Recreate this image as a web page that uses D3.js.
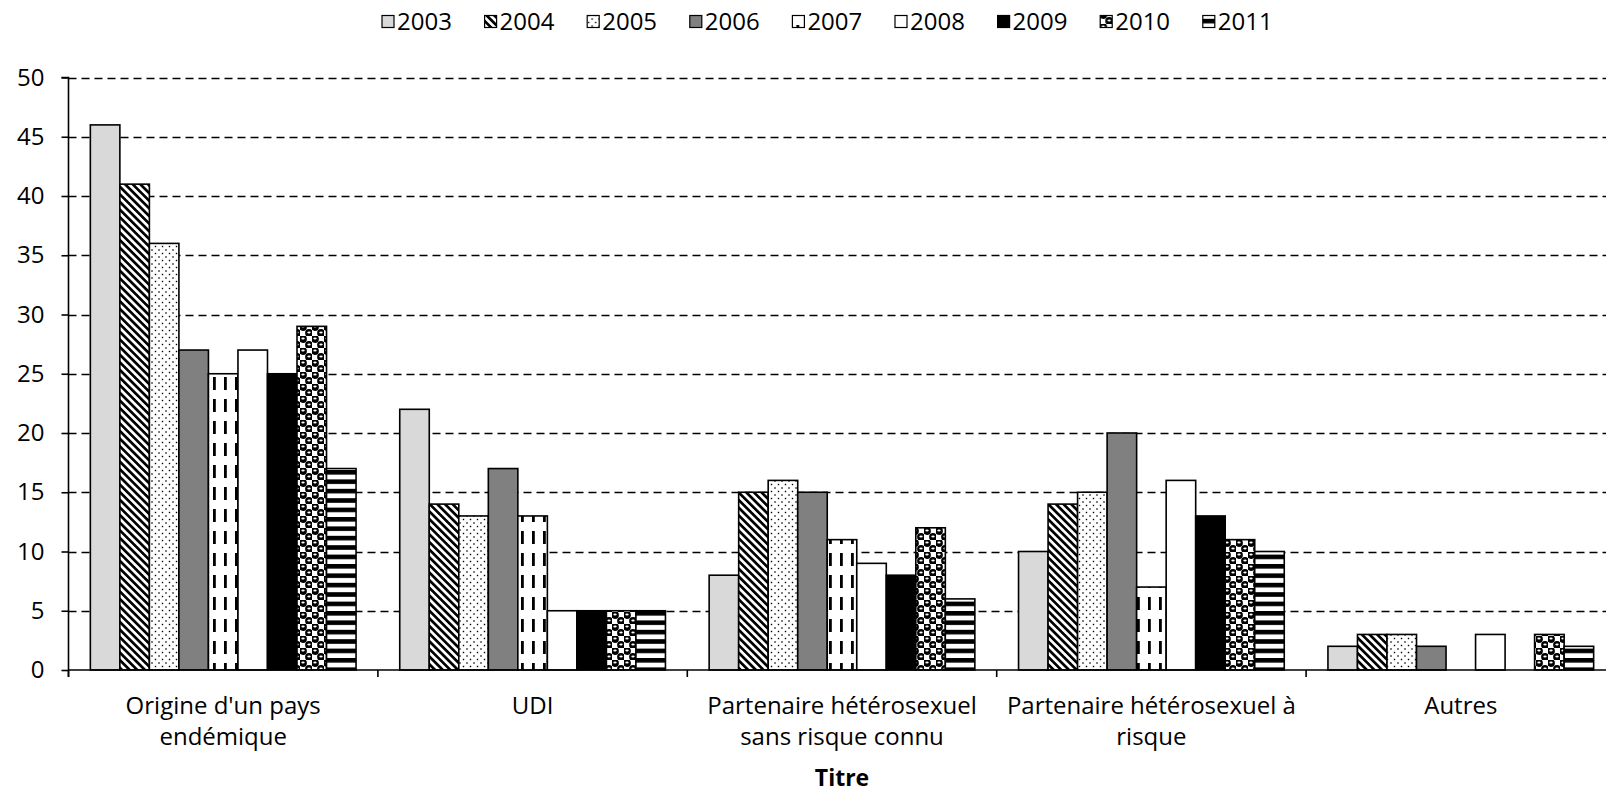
<!DOCTYPE html>
<html>
<head>
<meta charset="utf-8">
<script src="https://cdn.jsdelivr.net/npm/d3@7"></script>
<style>
  html, body { margin: 0; padding: 0; background: #fff; overflow: hidden; }
  svg { display: block; }
  text { font-family: "Open Sans", "Liberation Sans", sans-serif; fill: #000; }
</style>
</head>
<body>
<svg id="chart" width="1606" height="793"></svg>
<script>
// ---------- DATA ----------
const categories = [
  "Origine d'un pays endémique",
  "UDI",
  "Partenaire hétérosexuel sans risque connu",
  "Partenaire hétérosexuel à risque",
  "Autres"
];
const categoryLines = [
  ["Origine d'un pays", "endémique"],
  ["UDI"],
  ["Partenaire hétérosexuel", "sans risque connu"],
  ["Partenaire hétérosexuel à", "risque"],
  ["Autres"]
];
const years = ["2003", "2004", "2005", "2006", "2007", "2008", "2009", "2010", "2011"];
const values2003 = [46, 22, 8, 10, 2];
const values2004 = [41, 14, 15, 14, 3];
const values2005 = [36, 13, 16, 15, 3];
const values2006 = [27, 17, 15, 20, 2];
const values2007 = [25, 13, 11, 7, 0];
const values2008 = [27, 5, 9, 16, 3];
const values2009 = [25, 5, 8, 13, 0];
const values2010 = [29, 5, 12, 11, 3];
const values2011 = [17, 5, 6, 10, 2];
const seriesValues = [values2003, values2004, values2005, values2006, values2007,
                      values2008, values2009, values2010, values2011];
const yTicks = [0, 5, 10, 15, 20, 25, 30, 35, 40, 45, 50];
const axisTitle = "Titre";

// ---------- LAYOUT ----------
const svg = d3.select("#chart");
const plotLeft = 68.5, plotRight = 1615.5, plotTop = 77.5, plotBottom = 670;
const fontSize = 24;

const x0 = d3.scaleBand().domain(categories).range([plotLeft, plotRight]).paddingInner(0).paddingOuter(0);
const x1 = d3.scaleBand().domain(years).range([0, x0.bandwidth()]).paddingInner(0).paddingOuter(0.74);
const y = d3.scaleLinear().domain([0, 50]).range([plotBottom, plotTop]);

// ---------- PATTERNS ----------
const defs = svg.append("defs");
// 2004 wide downward diagonal
{
  const p = defs.append("pattern").attr("id", "p2004").attr("patternUnits", "userSpaceOnUse")
    .attr("width", 5.4).attr("height", 5.4).attr("patternTransform", "rotate(-45)");
  p.append("rect").attr("width", 5.4).attr("height", 5.4).attr("fill", "#fff");
  p.append("rect").attr("width", 2.7).attr("height", 5.4).attr("fill", "#000");
}
// 2005 dotted
{
  const p = defs.append("pattern").attr("id", "p2005").attr("patternUnits", "userSpaceOnUse")
    .attr("width", 7).attr("height", 7);
  p.append("rect").attr("width", 7).attr("height", 7).attr("fill", "#fff");
  p.append("rect").attr("x", 0.8).attr("y", 0.8).attr("width", 1.4).attr("height", 1.4).attr("fill", "#000");
  p.append("rect").attr("x", 4.3).attr("y", 4.3).attr("width", 1.4).attr("height", 1.4).attr("fill", "#000");
}
// 2007 dashed vertical
{
  const p = defs.append("pattern").attr("id", "p2007").attr("patternUnits", "userSpaceOnUse")
    .attr("width", 11).attr("height", 22);
  p.append("rect").attr("width", 11).attr("height", 22).attr("fill", "#fff");
  p.append("rect").attr("x", 4).attr("y", 3).attr("width", 2.8).attr("height", 13).attr("fill", "#000");
}
// 2010 sphere / checker
{
  const s = 12;
  const p = defs.append("pattern").attr("id", "p2010").attr("patternUnits", "userSpaceOnUse")
    .attr("width", s).attr("height", s);
  p.append("rect").attr("width", s).attr("height", s).attr("fill", "#fff");
  [[s / 4, s / 4], [3 * s / 4, 3 * s / 4]].forEach(([cx, cy]) => {
    p.append("circle").attr("cx", cx).attr("cy", cy).attr("r", 3.9).attr("fill", "#000");
    p.append("ellipse").attr("cx", cx).attr("cy", cy - 0.5).attr("rx", 1.7).attr("ry", 1.0).attr("fill", "#fff");
  });
}
// 2011 wide horizontal
{
  const p = defs.append("pattern").attr("id", "p2011").attr("patternUnits", "userSpaceOnUse")
    .attr("width", 10).attr("height", 9.4);
  p.append("rect").attr("width", 10).attr("height", 9.4).attr("fill", "#fff");
  p.append("rect").attr("y", 0).attr("width", 10).attr("height", 4.6).attr("fill", "#000");
}
const fills = {
  "2003": "#d9d9d9", "2004": "url(#p2004)", "2005": "url(#p2005)", "2006": "#808080",
  "2007": "url(#p2007)", "2008": "#ffffff", "2009": "#000000", "2010": "url(#p2010)", "2011": "url(#p2011)"
};

// ---------- GRIDLINES ----------
svg.append("g").selectAll("line").data(yTicks.filter(d => d > 0)).join("line")
  .attr("x1", plotLeft).attr("x2", plotRight)
  .attr("y1", d => Math.round(y(d)) + 0.5).attr("y2", d => Math.round(y(d)) + 0.5)
  .attr("stroke", "#000").attr("stroke-width", 1.6).attr("stroke-dasharray", "8,5");

// ---------- BARS ----------
const rows = [];
categories.forEach((c, ci) => years.forEach((yr, si) => rows.push({ cat: c, year: yr, value: seriesValues[si][ci] })));
svg.append("g").selectAll("rect").data(rows.filter(d => d.value > 0)).join("rect")
  .attr("x", d => x0(d.cat) + x1(d.year))
  .attr("y", d => y(d.value))
  .attr("width", x1.bandwidth())
  .attr("height", d => y(0) - y(d.value))
  .attr("fill", d => fills[d.year])
  .attr("stroke", "#000").attr("stroke-width", 1.6);

// ---------- AXES ----------
const yAxis = d3.axisLeft(y).tickValues(yTicks).tickSize(7).tickPadding(17);
const gy = svg.append("g").attr("transform", `translate(${plotLeft},0)`).call(yAxis);
gy.select(".domain").attr("stroke-width", 1.6).attr("d", `M-7,${plotTop}H0V${plotBottom + 7}`);
gy.selectAll(".tick line").attr("stroke-width", 1.6);
gy.selectAll("text").attr("font-size", fontSize).attr("font-family", "'Open Sans', sans-serif").attr("fill", "#000");

const xAxis = d3.axisBottom(x0).tickSize(0).tickFormat("");
const gx = svg.append("g").attr("transform", `translate(0,${plotBottom})`).call(xAxis);
gx.select(".domain").attr("stroke-width", 1.6).attr("d", `M${plotLeft},0H${plotRight}`);
gx.selectAll(".tick").remove();
const boundaries = categories.map(c => x0(c)).concat([plotRight]);
gx.selectAll("line.bound").data(boundaries).join("line").attr("class", "bound")
  .attr("x1", d => d).attr("x2", d => d).attr("y1", 0).attr("y2", 7)
  .attr("stroke", "#000").attr("stroke-width", 1.6);

// category labels
const lab = svg.append("g");
categories.forEach((c, ci) => {
  const cx = x0(c) + x0.bandwidth() / 2;
  categoryLines[ci].forEach((line, li) => {
    lab.append("text").attr("x", cx).attr("y", 714 + li * 31)
      .attr("text-anchor", "middle").attr("font-size", fontSize).text(line);
  });
});

// axis title
svg.append("text").attr("x", (plotLeft + plotRight) / 2).attr("y", 786)
  .attr("text-anchor", "middle").attr("font-size", 23).attr("font-weight", "bold").text(axisTitle);

// ---------- LEGEND ----------
const legendX = d3.scalePoint().domain(years).range([382, 382 + 8 * 102.6]);
const lg = svg.append("g").selectAll("g").data(years).join("g")
  .attr("transform", d => `translate(${legendX(d)},0)`);
lg.append("rect").attr("x", 0).attr("y", 15.5).attr("width", 12).attr("height", 12)
  .attr("fill", d => fills[d]).attr("stroke", "#000").attr("stroke-width", 1.2);
lg.append("text").attr("x", 15).attr("y", 30).attr("font-size", fontSize).text(d => d);
</script>
</body>
</html>
